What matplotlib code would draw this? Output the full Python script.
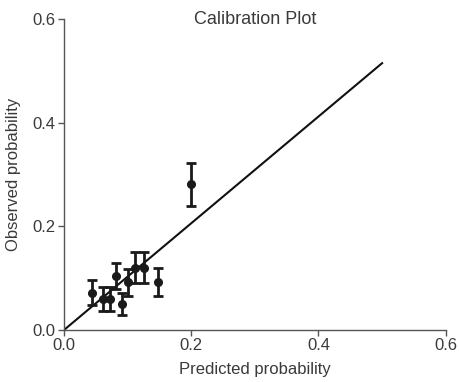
import matplotlib

matplotlib.use("Agg")

import matplotlib.pyplot as plt

PREDICTED = [0.044, 0.061, 0.072, 0.082, 0.091, 0.101, 0.112, 0.126, 0.148, 0.200]
OBSERVED = [0.072, 0.060, 0.060, 0.104, 0.050, 0.092, 0.120, 0.120, 0.092, 0.281]
ERRORS = [0.024, 0.023, 0.023, 0.025, 0.021, 0.026, 0.030, 0.030, 0.027, 0.042]

REF_X = [0.0, 0.5]
REF_Y = [0.0, 0.515]

TICKS = [0.0, 0.2, 0.4, 0.6]
TEXT_COLOR = "#3a3a3a"
SPINE_COLOR = "#555555"


def main():
    plt.rcParams["font.family"] = ["Liberation Sans", "DejaVu Sans"]
    fig = plt.figure(figsize=(4.6, 3.82), dpi=100)
    ax = fig.add_axes([0.139, 0.136, 0.830, 0.814])

    ax.plot(REF_X, REF_Y, color="#111111", linewidth=1.5, zorder=2)
    ax.errorbar(
        PREDICTED,
        OBSERVED,
        yerr=ERRORS,
        fmt="o",
        color="#1a1a1a",
        markersize=5.5,
        elinewidth=2.0,
        capsize=3.8,
        capthick=2.0,
        zorder=3,
    )

    ax.set_xlim(0, 0.6)
    ax.set_ylim(0, 0.6)
    ax.set_xticks(TICKS)
    ax.set_yticks(TICKS)
    ax.set_xticklabels([f"{t:.1f}" for t in TICKS])
    ax.set_yticklabels([f"{t:.1f}" for t in TICKS])

    for side in ["top", "right"]:
        ax.spines[side].set_visible(False)
    for side in ["left", "bottom"]:
        ax.spines[side].set_color(SPINE_COLOR)
        ax.spines[side].set_linewidth(1.0)

    ax.tick_params(direction="out", length=4, width=1.0, color=SPINE_COLOR,
                   labelsize=12, labelcolor=TEXT_COLOR, pad=2)
    ax.set_xlabel("Predicted probability", fontsize=12, color=TEXT_COLOR, labelpad=6)
    ax.set_ylabel("Observed probability", fontsize=12, color=TEXT_COLOR, labelpad=8)
    ax.text(0.5, 1.0, "Calibration Plot", transform=ax.transAxes, ha="center",
            va="center", fontsize=13, color=TEXT_COLOR)

    fig.savefig("out.png", dpi=100)
    plt.close(fig)


if __name__ == "__main__":
    main()
